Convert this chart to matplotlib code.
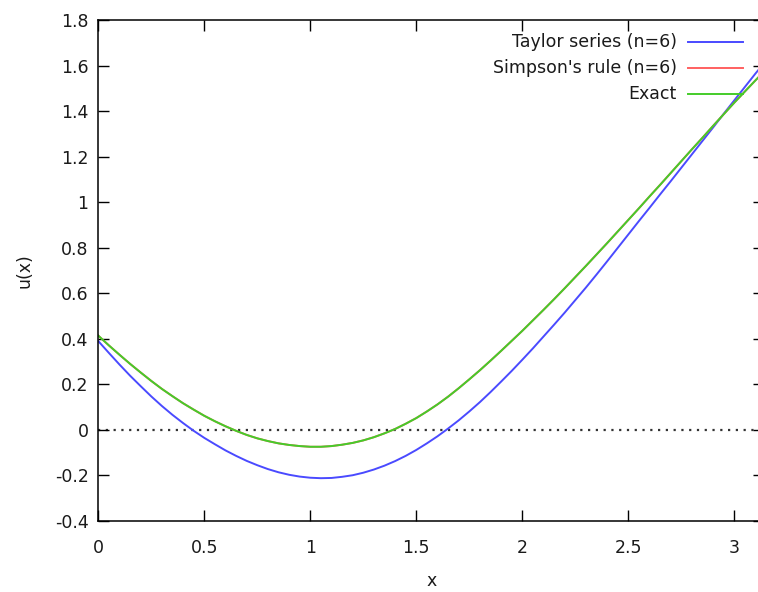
import matplotlib
matplotlib.use("Agg")
import matplotlib.pyplot as plt
from matplotlib.lines import Line2D

# values (every 0.05 in x)
x_vals = [0.00, 0.05, 0.10, 0.15, 0.20, 0.25, 0.30, 0.35, 0.40, 0.45,
          0.50, 0.55, 0.60, 0.65, 0.70, 0.75, 0.80, 0.85, 0.90, 0.95,
          1.00, 1.05, 1.10, 1.15, 1.20, 1.25, 1.30, 1.35, 1.40, 1.45,
          1.50, 1.55, 1.60, 1.65, 1.70, 1.75, 1.80, 1.85, 1.90, 1.95,
          2.00, 2.05, 2.10, 2.15, 2.20, 2.25, 2.30, 2.35, 2.40, 2.45,
          2.50, 2.55, 2.60, 2.65, 2.70, 2.75, 2.80, 2.85, 2.90, 2.95,
          3.00, 3.05, 3.10, 3.1416]

taylor_u = [0.390, 0.338, 0.287, 0.238, 0.192, 0.147, 0.105, 0.066, 0.030, -0.004,
            -0.035, -0.063, -0.090, -0.114, -0.136, -0.155, -0.172, -0.186, -0.197, -0.205,
            -0.210, -0.212, -0.211, -0.206, -0.199, -0.188, -0.174, -0.157, -0.137, -0.114,
            -0.088, -0.059, -0.028, 0.006, 0.042, 0.081, 0.122, 0.166, 0.212, 0.259,
            0.308, 0.358, 0.410, 0.462, 0.515, 0.570, 0.625, 0.682, 0.740, 0.799,
            0.858, 0.917, 0.975, 1.034, 1.092, 1.151, 1.210, 1.269, 1.328, 1.388,
            1.447, 1.506, 1.565, 1.612]

simpson_u = [0.414, 0.371, 0.330, 0.290, 0.252, 0.215, 0.180, 0.148, 0.117, 0.089,
             0.062, 0.038, 0.016, -0.004, -0.022, -0.037, -0.049, -0.059, -0.066, -0.071,
             -0.074, -0.074, -0.071, -0.065, -0.057, -0.046, -0.032, -0.015, 0.004, 0.027,
             0.052, 0.081, 0.112, 0.146, 0.183, 0.222, 0.262, 0.304, 0.347, 0.391,
             0.435, 0.481, 0.527, 0.574, 0.622, 0.671, 0.720, 0.770, 0.820, 0.871,
             0.922, 0.973, 1.025, 1.076, 1.128, 1.180, 1.232, 1.283, 1.335, 1.386,
             1.437, 1.486, 1.535, 1.575]

exact_u = [0.414, 0.371, 0.330, 0.290, 0.252, 0.215, 0.180, 0.148, 0.117, 0.089,
           0.062, 0.038, 0.016, -0.004, -0.022, -0.037, -0.049, -0.059, -0.066, -0.071,
           -0.074, -0.074, -0.071, -0.065, -0.057, -0.046, -0.032, -0.015, 0.004, 0.027,
           0.052, 0.081, 0.112, 0.146, 0.183, 0.222, 0.262, 0.304, 0.347, 0.391,
           0.435, 0.481, 0.527, 0.574, 0.622, 0.671, 0.720, 0.770, 0.820, 0.871,
           0.922, 0.973, 1.025, 1.076, 1.128, 1.180, 1.232, 1.283, 1.335, 1.386,
           1.437, 1.486, 1.535, 1.575]

x_ticks = [0, 0.5, 1, 1.5, 2, 2.5, 3]
x_tick_labels = ["0", "0.5", "1", "1.5", "2", "2.5", "3"]
y_ticks = [-0.4, -0.2, 0, 0.2, 0.4, 0.6, 0.8, 1.0, 1.2, 1.4, 1.6, 1.8]
y_tick_labels = ["-0.4", "-0.2", "0", "0.2", "0.4", "0.6", "0.8", "1", "1.2", "1.4", "1.6", "1.8"]

series = [
    ("Taylor series (n=6)", taylor_u, "#4a4aff"),
    ("Simpson's rule (n=6)", simpson_u, "#ff6060"),
    ("Exact", exact_u, "#44cc2a"),
]

W, H = 758, 592
plt.rcParams["font.family"] = "DejaVu Sans"
plt.rcParams["font.size"] = 12.5

fig = plt.figure(figsize=(W / 100, H / 100), dpi=100)
# the original plot runs to x = pi, a little past the right edge of the picture
ax = fig.add_axes([98.3 / W, 71 / H, 666 / W, 501 / H])

ax.axhline(0, color="#333333", linewidth=1.6, dashes=(1, 2.5), zorder=1)

for label, u, color in series:
    ax.plot(x_vals, u, color=color, linewidth=1.4, label=label, zorder=2)

ax.set_xlim(0, 3.14159)
ax.set_ylim(-0.4, 1.8)
ax.set_xticks(x_ticks)
ax.set_xticklabels(x_tick_labels)
ax.set_yticks(y_ticks)
ax.set_yticklabels(y_tick_labels)

ax.tick_params(axis="both", direction="in", length=8, width=1.0,
               top=True, right=True, colors="black", labelcolor="#1a1a1a")
ax.tick_params(axis="x", pad=13)
ax.tick_params(axis="y", pad=7)
for sp in ax.spines.values():
    sp.set_linewidth(1.1)
    sp.set_color("black")

ax.set_xlabel("x", color="#1a1a1a")
ax.xaxis.set_label_coords(0.5, -0.102)
ax.set_ylabel("u(x)", color="#1a1a1a")
ax.yaxis.set_label_coords(-0.098, 0.5)

# gnuplot style key: right-justified text, sample line after it
key_rows = [42, 68.3, 94]
for (label, u, color), row in zip(series, key_rows):
    yy = 1 - row / H
    fig.text(676.7 / W, yy, label, ha="right", va="center", color="#1a1a1a")
    fig.add_artist(Line2D([688.3 / W, 743.3 / W], [yy, yy], transform=fig.transFigure,
                          color=color, linewidth=1.4))

fig.savefig("out.png", dpi=100)
